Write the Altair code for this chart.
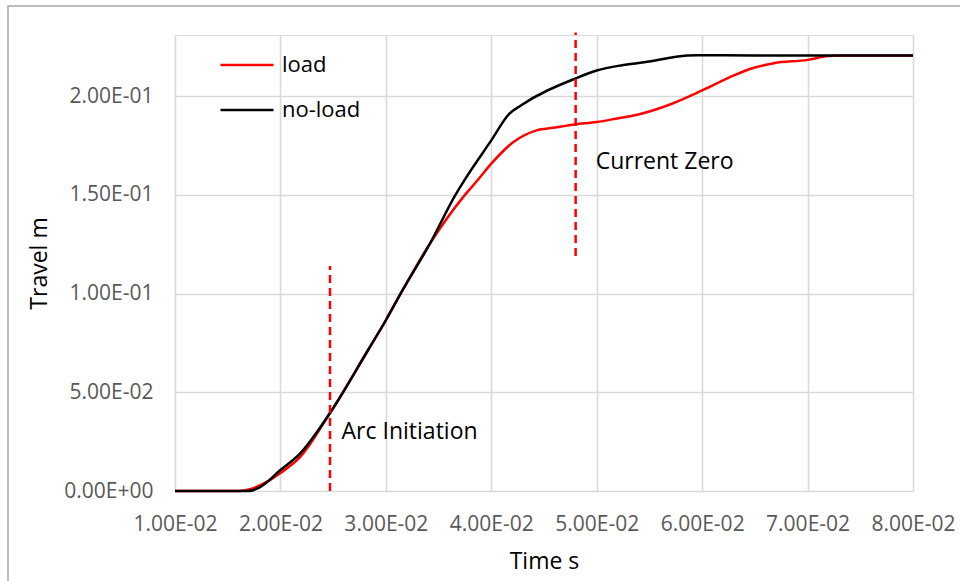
import altair as alt
import pandas as pd

# --- data ---
load_t = [0.0100, 0.0160, 0.0172, 0.0181, 0.0190, 0.0200, 0.0219, 0.0247, 0.0283, 0.0300,
          0.0314, 0.0342, 0.0375, 0.0387, 0.0400, 0.0421, 0.0443, 0.0459, 0.0479, 0.0500,
          0.0523, 0.0535, 0.0567, 0.0600, 0.0630, 0.0646, 0.0668, 0.0700, 0.0719, 0.0730,
          0.0800]
load_y = [0.0, 0.0, 0.0010, 0.0030, 0.0055, 0.0091, 0.0174, 0.0395, 0.0713, 0.0865,
          0.1000, 0.1255, 0.1500, 0.1574, 0.1658, 0.1768, 0.1827, 0.1840, 0.1857, 0.1869,
          0.1891, 0.1902, 0.1953, 0.2029, 0.2105, 0.2139, 0.2167, 0.2184, 0.2203, 0.2206,
          0.2206]

noload_t = [0.0100, 0.0170, 0.0179, 0.0200, 0.0219, 0.0247, 0.0283, 0.0300, 0.0314, 0.0342,
            0.0366, 0.0374, 0.0400, 0.0417, 0.0428, 0.0479, 0.0500, 0.0523, 0.0545, 0.0586,
            0.0595, 0.0650, 0.0800]
noload_y = [0.0, 0.0, 0.0015, 0.0106, 0.0192, 0.0395, 0.0713, 0.0865, 0.1000, 0.1255,
            0.1500, 0.1570, 0.1776, 0.1911, 0.1953, 0.2088, 0.2130, 0.2156, 0.2172, 0.2206,
            0.2208, 0.2206, 0.2206]

series_names = ["load", "no-load"]
series_colors = ["#ff0000", "#000000"]

x_ticks = [0.01, 0.02, 0.03, 0.04, 0.05, 0.06, 0.07, 0.08]
y_ticks = [0.0, 0.05, 0.10, 0.15, 0.20]

marker_t = [0.0247, 0.0480]
marker_y0 = [0.0, 0.119]
marker_y1 = [0.114, 0.2323]

note_text = ["Arc Initiation", "Current Zero"]
note_t = [0.0258, 0.0499]
note_y = [0.0300, 0.1665]

# --- tables ---
df = pd.concat([
    pd.DataFrame({"t": load_t, "y": load_y, "series": series_names[0], "o": range(len(load_t))}),
    pd.DataFrame({"t": noload_t, "y": noload_y, "series": series_names[1], "o": range(len(noload_t))}),
])
markers = pd.DataFrame({"t": marker_t, "y0": marker_y0, "y1": marker_y1})
notes = pd.DataFrame({"t": note_t, "y": note_y, "text": note_text})

FONT = "Open Sans"
label_expr = "replace(replace(upper(format(datum.value, '.2e')), 'E-', 'E-0'), 'E+', 'E+0')"

x_scale = alt.Scale(domain=[0.01, 0.08], nice=False, zero=False)
y_scale = alt.Scale(domain=[0.0, 0.231], nice=False, zero=False)

frame = alt.Chart(pd.DataFrame({"a": [0]})).mark_rect(
    fill=None, stroke="#a6a6a6", strokeWidth=1.5
).encode(
    x=alt.value(-167), x2=alt.value(800), y=alt.value(-29), y2=alt.value(560)
)

lines = alt.Chart(df).mark_line(strokeWidth=2.5, interpolate="monotone").encode(
    x=alt.X("t:Q", scale=x_scale,
            axis=alt.Axis(values=x_ticks, labelExpr=label_expr, title="Time s",
                          grid=True, gridColor="#d9d9d9", gridWidth=1.6,
                          domain=False, ticks=False, tickSize=0,
                          labelOverlap=False, labelFlush=False,
                          labelFont=FONT, labelFontSize=21, labelColor="#595959",
                          labelPadding=22,
                          titleFont=FONT, titleFontSize=23, titleFontWeight="normal",
                          titleColor="#000000", titleX=369, titleY=77,
                          titleBaseline="alphabetic", titleAnchor="middle")),
    y=alt.Y("y:Q", scale=y_scale,
            axis=alt.Axis(values=y_ticks, labelExpr=label_expr, title="Travel m",
                          grid=True, gridColor="#d9d9d9", gridWidth=1.6,
                          domain=False, ticks=False, tickSize=0,
                          labelOverlap=False, labelFlush=False,
                          labelFont=FONT, labelFontSize=21, labelColor="#595959",
                          labelPadding=22,
                          titleFont=FONT, titleFontSize=23, titleFontWeight="normal",
                          titleColor="#000000", titleX=-129, titleY=228,
                          titleBaseline="alphabetic", titleAlign="center")),
    color=alt.Color("series:N",
                    scale=alt.Scale(domain=series_names, range=series_colors),
                    legend=alt.Legend(title=None, orient="none", legendX=44, legendY=2,
                                      symbolType="stroke", symbolSize=2809,
                                      symbolStrokeWidth=2.5, labelFont=FONT,
                                      labelFontSize=22, labelColor="#000000",
                                      labelOffset=7, rowPadding=6, padding=0)),
    order="o:Q",
)

dashes = alt.Chart(markers).mark_rule(
    color="#ff0000", strokeWidth=2.5, strokeDash=[8, 5], clip=False
).encode(
    x=alt.X("t:Q", scale=x_scale),
    y=alt.Y("y0:Q", scale=y_scale),
    y2="y1:Q",
)

texts = alt.Chart(notes).mark_text(
    align="left", baseline="middle", font=FONT, fontSize=23, color="#000000"
).encode(
    x=alt.X("t:Q", scale=x_scale),
    y=alt.Y("y:Q", scale=y_scale),
    text="text:N",
)

chart = alt.layer(frame, lines, dashes, texts).properties(
    width=738, height=456,
    autosize=alt.AutoSizeParams(type="none"),
    padding={"left": 175, "top": 35, "right": 47, "bottom": 90},
).configure_view(stroke=None).configure(background="white")

chart.save("out.html", embed_options={"renderer": "svg", "actions": False})
